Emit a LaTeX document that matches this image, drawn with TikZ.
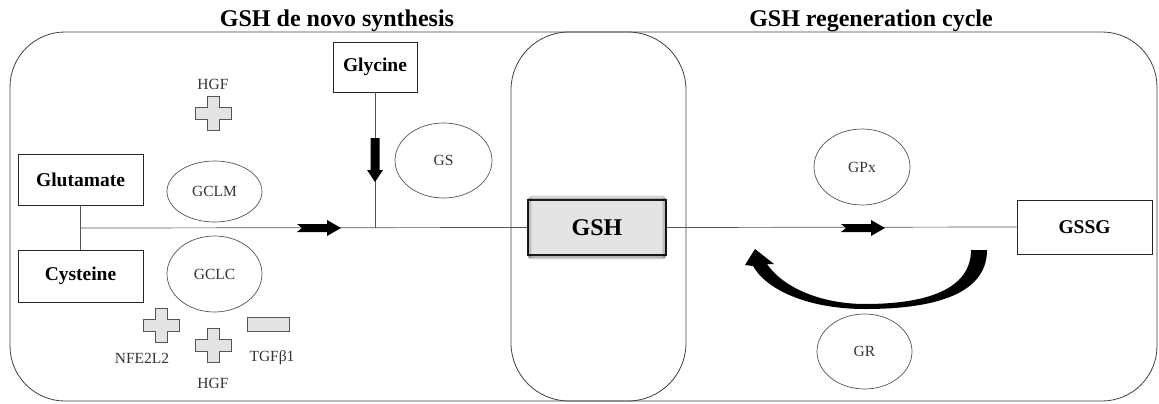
\documentclass[tikz,border=0pt]{standalone}
\usepackage{fontspec}
\setmainfont{Liberation Serif}
\usetikzlibrary{shapes.geometric}
\definecolor{linegray}{HTML}{555555}
\definecolor{fillgray}{HTML}{E4E4E4}
\definecolor{txtgray}{HTML}{333333}
\tikzset{
  boxnode/.style={draw=black!85, line width=0.8pt, inner sep=0pt, font=\fontsize{19.5}{22}\selectfont\bfseries},
  enz/.style={ellipse, draw=linegray, line width=0.7pt, inner sep=0pt, font=\fontsize{15.5}{17}\selectfont, text=txtgray},
  lbl/.style={font=\fontsize{15.5}{17}\selectfont, text=txtgray, anchor=base, inner sep=0pt},
  ttl/.style={font=\fontsize{24}{26}\selectfont\bfseries, anchor=base, inner sep=0pt},
  conn/.style={draw=linegray, line width=0.7pt},
  fat/.style={fill=black},
  symb/.style={fill=fillgray, draw=linegray, line width=0.7pt},
  pluspic/.pic={\path[symb] (-6,-17) -- (6,-17) -- (6,-6) -- (18,-6) -- (18,6) -- (6,6) -- (6,17) -- (-6,17) -- (-6,6) -- (-18,6) -- (-18,-6) -- (-6,-6) -- cycle;},
  rightarr/.pic={\path[fat] (0,0) -- (-14,-8) -- (-14,-4) -- (-44,-4) -- (-39,0) -- (-44,4) -- (-14,4) -- (-14,8) -- cycle;},
  downarr/.pic={\path[fat] (0,0) -- (-8,-12) -- (-4.5,-12) -- (-4.5,-44) -- (4.5,-44) -- (4.5,-12) -- (8,-12) -- cycle;}
}
\begin{document}
\begin{tikzpicture}[x=1pt,y=-1pt]
\useasboundingbox (0,0) rectangle (1159,404);
% titles
\node[ttl] (t1) at (337,27) {GSH de novo synthesis};
\node[ttl] (t2) at (871,27) {GSH regeneration cycle};
% outer frame and capsule
\draw[draw=black!75, line width=0.8pt, rounded corners=55] (10,32) rectangle (1157,401);
\draw[draw=black!75, line width=0.8pt, rounded corners=58] (511,32) rectangle (686,401);
% boxes
\node[boxnode, minimum width=125pt, minimum height=51pt] (glu) at (80.5,179.5) {Glutamate};
\node[boxnode, minimum width=125pt, minimum height=52pt] (cys) at (80.5,276) {Cysteine};
\node[boxnode, minimum width=84pt, minimum height=50pt] (gly) at (375,67) {Glycine};
\node[boxnode, minimum width=135pt, minimum height=54pt] (gssg) at (1084.5,227) {GSSG};
% GSH box with soft inner shadow
\node[draw=black!90, line width=1.1pt, fill=fillgray, minimum width=138pt, minimum height=55pt, inner sep=0pt] (gsh) at (597,227.5) {};
\foreach \i/\o in {1.3/0.3,2.6/0.16,3.9/0.07}{
  \draw[black, opacity=\o, line width=1.3pt] ([shift={(\i,-\i)}]gsh.north west) rectangle ([shift={(-\i,\i)}]gsh.south east);
}
\node[font=\fontsize{24}{26}\selectfont\bfseries, inner sep=0pt] at (gsh.center) {GSH};
% enzymes
\node[enz, minimum width=95pt, minimum height=61pt] (gclm) at (214.5,191.5) {GCLM};
\node[enz, minimum width=95pt, minimum height=76pt] (gclc) at (214.5,274) {GCLC};
\node[enz, minimum width=97pt, minimum height=75pt] (gs) at (443.5,160.5) {GS};
\node[enz, minimum width=96pt, minimum height=76pt] (gpx) at (862,167) {GPx};
\node[enz, minimum width=95pt, minimum height=75pt] (gr) at (864.5,351.5) {GR};
% connectors
\coordinate (j1) at (80.5,228);
\coordinate (j2) at (375,228);
\draw[conn] (glu.south) -- (cys.north);
\draw[conn] (j1) -- (gsh.west);
\draw[conn] (gly.south) -- (j2);
\draw[conn] (gsh.east) -- (gssg.west);
% fat arrows
\pic at (341,228) {rightarr};
\pic at (885,228) {rightarr};
\pic at (375,182) {downarr};
% curved arrow
\fill[black] (987,250) .. controls (987,296) and (930,309) .. (865,309)
  .. controls (812,309) and (768,292) .. (753,266)
  -- (745,265) -- (755,249) -- (774,264) -- (767,264)
  .. controls (785,290) and (825,304) .. (865,304)
  .. controls (925,304) and (971,290) .. (971,250) -- cycle;
% regulators
\pic at (213,113) {pluspic};
\node[lbl] (hgf1) at (213,89.5) {HGF};
\pic at (161,325) {pluspic};
\node[lbl] (nfe) at (142,363) {NFE2L2};
\pic at (213,345.5) {pluspic};
\node[lbl] (hgf2) at (213,388) {HGF};
\path[symb] (247,317) rectangle (289,331);
\node[lbl] (tgf) at (272,361) {TGFβ1};
\end{tikzpicture}
\end{document}
